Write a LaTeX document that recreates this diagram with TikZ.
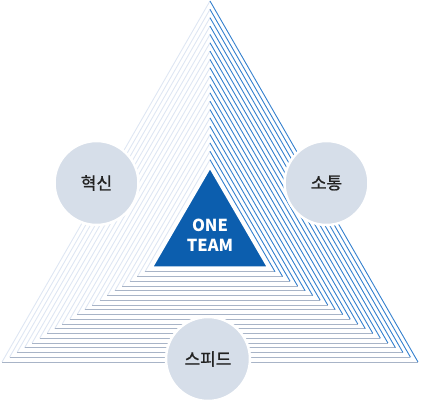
\documentclass[tikz,border=0pt]{standalone}
\usepackage{fontspec}
\setmainfont{Noto Sans CJK KR}
\newfontfamily\krmedium[FakeBold=1.2]{Noto Sans CJK KR}
\definecolor{leftpale}{RGB}{222,230,243}
\definecolor{rightblue}{RGB}{52,128,206}
\definecolor{basegray}{RGB}{168,180,199}
\definecolor{teamblue}{RGB}{12,94,174}
\definecolor{valuefill}{RGB}{214,222,233}
\definecolor{valuetext}{RGB}{34,34,34}

\begin{document}
\begin{tikzpicture}[x=1pt,y=-1pt]
        \useasboundingbox (0,0) rectangle (422,406);
        % nested outline triangles, from outside in
        \foreach \k in {0,...,19} {
            \pgfmathsetmacro{\ya}{1+8.35*\k}
            \pgfmathsetmacro{\yb}{362-4.75*\k}
            \pgfmathsetmacro{\hw}{208-7.525*\k}
            \draw[leftpale, line width=0.9] (210,\ya) -- (210-\hw,\yb);
            \draw[basegray, line width=0.9] (210-\hw,\yb) -- (210+\hw,\yb);
            \draw[rightblue, line width=0.9] (210,\ya) -- (210+\hw,\yb);
        }
        % inner team triangle
        \fill[teamblue, draw=white, line width=1.5] (210,168) -- (152.5,267) -- (267.5,267) -- cycle;
        \node (team) [text=white, font=\bfseries\fontsize{16.5}{20}\selectfont, align=center] at (210,235) {ONE\\TEAM};
        \begin{scope}[every node/.style={circle,fill=valuefill,draw=white,line width=2.5,minimum size=84,inner sep=0,font=\krmedium\fontsize{17}{20}\selectfont}]
            \node (V1) [text=valuetext] at (96.5,183) {혁신};
            \node (V2) [text=valuetext] at (326.5,183) {소통};
            \node (V3) [text=valuetext] at (208,359) {스피드};
        \end{scope}
    \end{tikzpicture}
\end{document}
